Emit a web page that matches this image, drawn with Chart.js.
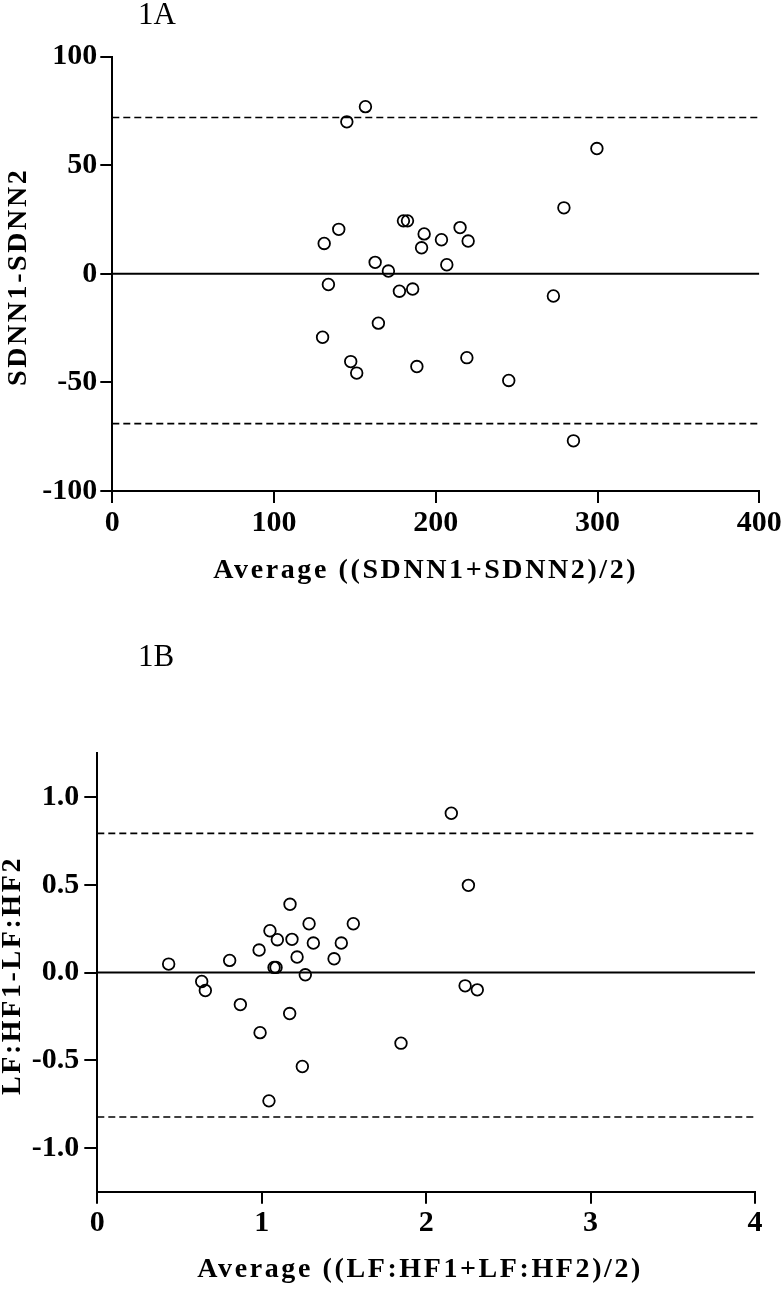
<!DOCTYPE html>
<html>
<head>
<meta charset="utf-8">
<script src="https://cdn.jsdelivr.net/npm/chart.js@4/dist/chart.umd.min.js"></script>
<style>
  html, body { margin: 0; padding: 0; background: #fff; }
  #wrap { position: relative; width: 781px; height: 1290px; }
  canvas { position: absolute; left: 0; }
  #cA { top: 0; }
  #cB { top: 620px; }
</style>
</head>
<body>
<div id="wrap">
  <canvas id="cA" width="781" height="620"></canvas>
  <canvas id="cB" width="781" height="670"></canvas>
</div>
<script>
// ---------- Panel 1A data ----------
const avgA  = [145, 156.5, 140, 131, 180, 182.5, 192.8, 191.2, 162.5, 170.7, 133.6, 177.5, 185.7, 164.5, 130, 147.4, 151.1, 188.3, 299.6, 279.2, 203.5, 215, 220, 206.8, 272.7, 219.2, 245.1, 285.1];
const diffA = [70, 77, 20.5, 14, 24.4, 24.4, 18.4, 12, 5.3, 1.3, -4.9, -8, -7, -22.7, -29.2, -40.4, -45.7, -42.7, 57.7, 30.4, 15.7, 21.3, 15.1, 4.2, -10.2, -38.6, -49.1, -76.9];
const biasA  = 0;
const upperA = 72;
const lowerA = -69;
const xTicksA = [0, 100, 200, 300, 400];
const yTicksA = [-100, -50, 0, 50, 100];
const xTickLabelsA = ['0', '100', '200', '300', '400'];
const yTickLabelsA = ['-100', '-50', '0', '50', '100'];

// ---------- Panel 1B data ----------
const avgB  = [0.434, 0.635, 0.657, 0.805, 0.870, 0.984, 0.990, 1.050, 1.095, 1.075, 1.087, 1.172, 1.184, 1.170, 1.215, 1.265, 1.247, 1.288, 1.314, 1.440, 1.484, 1.557, 1.847, 1.044, 2.153, 2.257, 2.237, 2.311];
const diffB = [0.048, -0.051, -0.103, 0.069, -0.183, 0.128, -0.343, 0.238, 0.187, 0.029, 0.029, 0.389, 0.189, -0.234, 0.088, -0.013, -0.536, 0.278, 0.168, 0.078, 0.168, 0.278, -0.403, -0.732, 0.908, 0.497, -0.076, -0.099];
const biasB  = 0;
const upperB = 0.793;
const lowerB = -0.824;
const xTicksB = [0, 1, 2, 3, 4];
const yTicksB = [-1, -0.5, 0, 0.5, 1];
const xTickLabelsB = ['0', '1', '2', '3', '4'];
const yTickLabelsB = ['-1.0', '-0.5', '0.0', '0.5', '1.0'];

Chart.defaults.font.family = '"Liberation Serif", "DejaVu Serif", serif';
Chart.defaults.font.size = 30;
Chart.defaults.font.weight = 'bold';
Chart.defaults.color = '#000';

const panelText = {
  id: 'panelText',
  afterDraw(chart, args, o) {
    const ctx = chart.ctx, ca = chart.chartArea;
    ctx.save();
    ctx.fillStyle = '#000';
    ctx.textBaseline = 'middle';
    ctx.textAlign = 'left';
    ctx.font = 'normal 31px "Liberation Serif"';
    ctx.fillText(o.panel, o.panelX, o.panelY);
    ctx.font = 'bold 28px "Liberation Serif"';
    try { ctx.letterSpacing = '2.6px'; } catch (e) {}
    ctx.textAlign = 'center';
    ctx.fillText(o.xTitle, (ca.left + ca.right) / 2 + o.xTitleDx, o.xTitleY);
    ctx.translate(o.yTitleX, (ca.top + ca.bottom) / 2 + o.yTitleDy);
    ctx.rotate(-Math.PI / 2);
    ctx.fillText(o.yTitle, 0, 0);
    ctx.restore();
  }
};

function hLine(v, xmax, dashed) {
  return {
    type: 'line',
    data: [{ x: 0, y: v }, { x: xmax, y: v }],
    borderColor: '#000',
    borderWidth: dashed ? 1.7 : 2,
    borderDash: dashed ? [7, 4] : [],
    pointRadius: 0,
    fill: false,
    order: 2
  };
}

function axisCommon(ticksArr, labelsArr, tickLen, pad) {
  return {
    type: 'linear',
    afterBuildTicks: s => { s.ticks = ticksArr.map(v => ({ value: v })); },
    grid: { drawOnChartArea: false, drawTicks: true, tickLength: tickLen, color: '#000', lineWidth: 2 },
    border: { display: true, color: '#000', width: 2 },
    ticks: {
      color: '#000', padding: pad, autoSkip: false, maxRotation: 0,
      callback: (val) => { const i = ticksArr.indexOf(val); return i >= 0 ? labelsArr[i] : ''; }
    }
  };
}

function makeChart(id, cfg) {
  const xs = axisCommon(cfg.xTicks, cfg.xLabels, 12, 2);
  xs.min = cfg.xTicks[0]; xs.max = cfg.xTicks[cfg.xTicks.length - 1];
  xs.afterFit = s => { s.height = cfg.xHeight; s.paddingLeft = 0; s.paddingRight = 0; };
  const ys = axisCommon(cfg.yTicks, cfg.yLabels, cfg.yTickLen, cfg.yPad);
  ys.min = cfg.yMin; ys.max = cfg.yMax;
  ys.afterFit = s => { s.width = cfg.yWidth; s.paddingTop = 0; s.paddingBottom = 0; };
  return new Chart(document.getElementById(id), {
    type: 'scatter',
    data: {
      datasets: [
        hLine(cfg.upper, xs.max, true),
        hLine(cfg.bias, xs.max, false),
        hLine(cfg.lower, xs.max, true),
        {
          type: 'scatter',
          data: cfg.xs.map((x, i) => ({ x: x, y: cfg.ys[i] })),
          pointRadius: 5.8,
          pointBorderWidth: 1.8,
          borderColor: '#000',
          backgroundColor: 'rgba(0,0,0,0)',
          pointBackgroundColor: 'rgba(0,0,0,0)',
          pointBorderColor: '#000',
          order: 1
        }
      ]
    },
    options: {
      responsive: false,
      animation: false,
      events: [],
      layout: { padding: { top: cfg.top, right: cfg.right, left: 0, bottom: 0 } },
      plugins: {
        legend: { display: false },
        tooltip: { enabled: false },
        panelText: cfg.text
      },
      scales: { x: xs, y: ys }
    },
    plugins: [panelText]
  });
}

makeChart('cA', {
  xs: avgA, ys: diffA, bias: biasA, upper: upperA, lower: lowerA,
  xTicks: xTicksA, xLabels: xTickLabelsA, yTicks: yTicksA, yLabels: yTickLabelsA,
  yMin: -100, yMax: 100,
  top: 56.7, right: 781 - 759.3, xHeight: 620 - 491, yWidth: 112.3, yTickLen: 12, yPad: 3,
  text: { panel: '1A', panelX: 138, panelY: 16, xTitle: 'Average ((SDNN1+SDNN2)/2)', xTitleDx: -10, xTitleY: 571,
          yTitle: 'SDNN1-SDNN2', yTitleX: 19, yTitleDy: 3 }
});

makeChart('cB', {
  xs: avgB, ys: diffB, bias: biasB, upper: upperB, lower: lowerB,
  xTicks: xTicksB, xLabels: xTickLabelsB, yTicks: yTicksB, yLabels: yTickLabelsB,
  yMin: -1.25, yMax: 1.25,
  top: 753.3 - 620, right: 781 - 755, xHeight: 670 - (1191.7 - 620), yWidth: 97.3, yTickLen: 13, yPad: 5,
  text: { panel: '1B', panelX: 138, panelY: 38, xTitle: 'Average ((LF:HF1+LF:HF2)/2)', xTitleDx: -6, xTitleY: 650,
          yTitle: 'LF:HF1-LF:HF2', yTitleX: 13, yTitleDy: 3 }
});
</script>
</body>
</html>
